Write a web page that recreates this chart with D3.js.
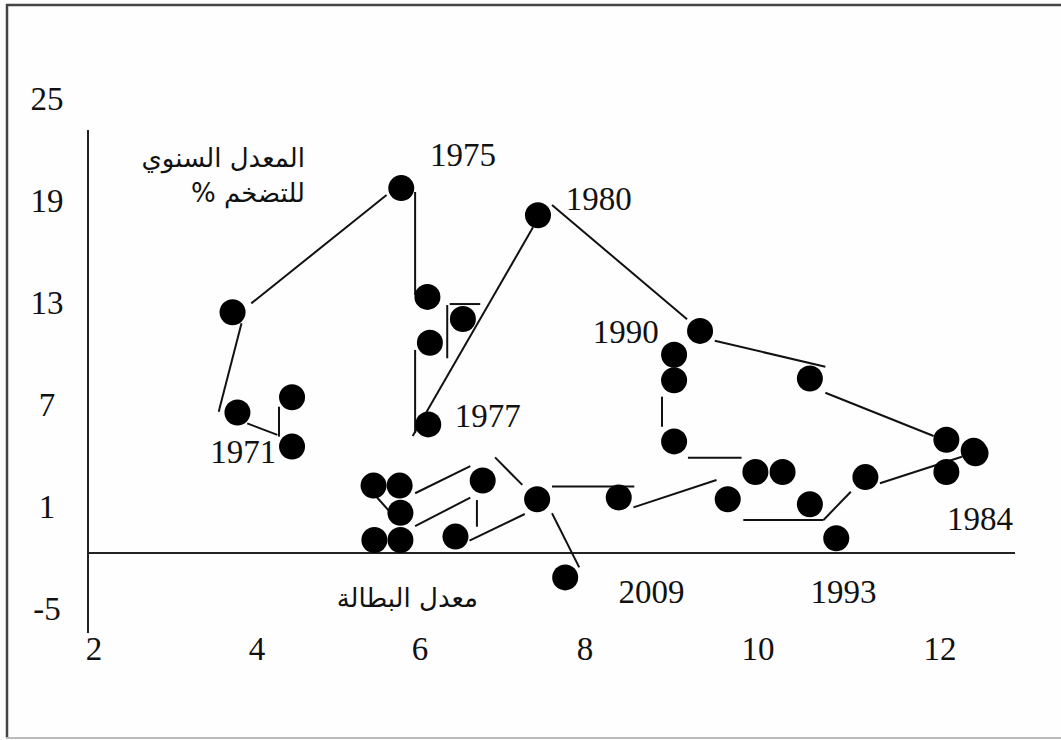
<!DOCTYPE html>
<html>
<head>
<meta charset="utf-8">
<script src="https://cdn.jsdelivr.net/npm/d3@7"></script>
<style>
  html, body { margin: 0; padding: 0; background: #fff; }
  svg { display: block; }
  .num { font-family: "Liberation Serif", "Times New Roman", serif; font-size: 33px; fill: #111; }
  .ar { font-family: "DejaVu Sans", sans-serif; font-size: 26px; fill: #111; }
</style>
</head>
<body>
<svg id="chart"></svg>
<script>
// ─── Data ────────────────────────────────────────────────────────────────
// unemployment rate (x) and annual inflation rate (y), one dot per year
const unemp = [3.70, 5.77, 6.09, 6.12, 6.52, 6.10, 7.43, 3.76, 4.43, 4.43,
               5.43, 5.75, 5.76, 5.44, 5.76, 6.43, 6.76, 7.42, 7.76, 8.39,
               9.33, 9.03, 9.03, 9.03, 10.57, 12.07, 12.37, 12.39, 12.07, 9.97,
               10.27, 11.18, 9.65, 10.57, 10.86];
const infl  = [12.4, 19.7, 13.3, 10.6, 12.0, 5.8, 18.1, 6.5, 7.4, 4.5,
               2.2, 2.2, 0.6, -1.0, -1.0, -0.8, 2.5, 1.4, -3.2, 1.5,
               11.3, 9.9, 8.4, 4.8, 8.5, 4.9, 4.25, 4.1, 3.0, 3.0,
               3.0, 2.7, 1.4, 1.1, -0.9];

// connecting strokes as drawn in the figure: [x1, y1, x2, y2]
const segments = [
  [3.93, 12.92, 5.59, 19.29],
  [3.81, 11.75, 3.53, 6.55],
  [3.88, 5.86, 4.25, 5.18],
  [4.27, 6.84, 4.27, 5.08],
  [5.94, 19.47, 5.94, 13.41],
  [5.94, 10.18, 5.94, 5.29],
  [5.91, 5.12, 7.37, 17.39],
  [6.33, 12.82, 6.33, 9.69],
  [6.36, 12.88, 6.73, 12.88],
  [7.60, 18.71, 9.18, 11.98],
  [9.50, 10.72, 10.74, 9.19],
  [10.74, 7.66, 11.93, 5.12],
  [8.89, 7.43, 8.89, 5.66],
  [9.19, 3.84, 9.81, 3.84],
  [8.56, 0.92, 9.52, 2.53],
  [9.83, 0.18, 10.72, 0.18],
  [10.72, 0.18, 11.02, 1.84],
  [11.34, 2.34, 12.24, 3.90],
  [5.94, 1.75, 6.61, 3.35],
  [5.94, -0.18, 6.61, 1.49],
  [6.69, 1.35, 6.69, -0.22],
  [6.60, -1.04, 7.27, 0.53],
  [6.91, 3.86, 7.24, 2.24],
  [7.60, 2.14, 8.57, 2.14],
  [7.60, 0.57, 7.93, -2.61],
  [5.41, 1.84, 5.63, 0.66]
];

const yearLabels = ["1975", "1980", "1990", "1977", "1971", "2009", "1993", "1984"];
const yearX      = [6.52, 8.16, 8.47, 6.82, 3.83, 8.77, 10.94, 12.44];
const yearY      = [21.7, 19.06, 11.29, 6.35, 4.18, -4.0, -4.0, 0.29];

const xTicks = [2, 4, 6, 8, 10, 12];
const yTicks = [25, 19, 13, 7, 1, -5];

const yTitle = ["المعدل السنوي", "للتضخم %"];
const xTitle = "معدل البطالة";

// ─── Layout ──────────────────────────────────────────────────────────────
const W = 1061, H = 740;
const svg = d3.select("#chart").attr("width", W).attr("height", H);

// the printed x axis is slightly uneven, so follow it with a piecewise scale
const x = d3.scaleLinear().domain(xTicks).range([94, 257, 420, 585, 758, 940]);
const y = d3.scaleLinear().domain([-5, 25]).range([608, 98]);

// page frame
svg.append("rect").attr("width", W).attr("height", H).attr("fill", "#fefefe");
svg.append("line").attr("x1", 6).attr("x2", W).attr("y1", 5).attr("y2", 5)
  .attr("stroke", "#444").attr("stroke-width", 2.5);
svg.append("line").attr("x1", 7).attr("x2", 7).attr("y1", 4).attr("y2", 738)
  .attr("stroke", "#444").attr("stroke-width", 2.5);
svg.append("line").attr("x1", 6).attr("x2", W).attr("y1", 738).attr("y2", 738)
  .attr("stroke", "#bbb").attr("stroke-width", 2);

// axis lines (no tick marks in the original)
const axisX = 88, axisTop = 130, axisBottom = 633, baseY = 553, axisRight = 1015;
svg.append("line").attr("x1", axisX).attr("x2", axisX).attr("y1", axisTop).attr("y2", axisBottom)
  .attr("stroke", "#222").attr("stroke-width", 2);
svg.append("line").attr("x1", axisX).attr("x2", axisRight).attr("y1", baseY).attr("y2", baseY)
  .attr("stroke", "#222").attr("stroke-width", 2);

// tick labels
svg.append("g").selectAll("text").data(yTicks).join("text")
  .attr("class", "num").attr("text-anchor", "middle")
  .attr("x", 47).attr("y", d => y(d) + 11.5)
  .text(d => d);

svg.append("g").selectAll("text").data(xTicks).join("text")
  .attr("class", "num").attr("text-anchor", "middle")
  .attr("x", d => x(d)).attr("y", 660)
  .text(d => d);

// axis titles
svg.append("g").selectAll("text").data(yTitle).join("text")
  .attr("class", "ar").attr("direction", "rtl").attr("text-anchor", "start")
  .attr("x", 305).attr("y", (d, i) => 167 + i * 35)
  .text(d => d);
svg.append("text").attr("class", "ar").attr("direction", "rtl").attr("text-anchor", "start")
  .attr("x", 478).attr("y", 607).text(xTitle);

// connecting strokes
svg.append("g").selectAll("line").data(segments).join("line")
  .attr("x1", d => x(d[0])).attr("y1", d => y(d[1]))
  .attr("x2", d => x(d[2])).attr("y2", d => y(d[3]))
  .attr("stroke", "#111").attr("stroke-width", 2);

// dots
svg.append("g").selectAll("circle").data(d3.range(unemp.length)).join("circle")
  .attr("cx", i => x(unemp[i])).attr("cy", i => y(infl[i]))
  .attr("r", 13).attr("fill", "#000");

// year annotations
svg.append("g").selectAll("text").data(yearLabels).join("text")
  .attr("class", "num").attr("text-anchor", "middle")
  .attr("x", (d, i) => x(yearX[i])).attr("y", (d, i) => y(yearY[i]) + 11.5)
  .text(d => d);
</script>
</body>
</html>
